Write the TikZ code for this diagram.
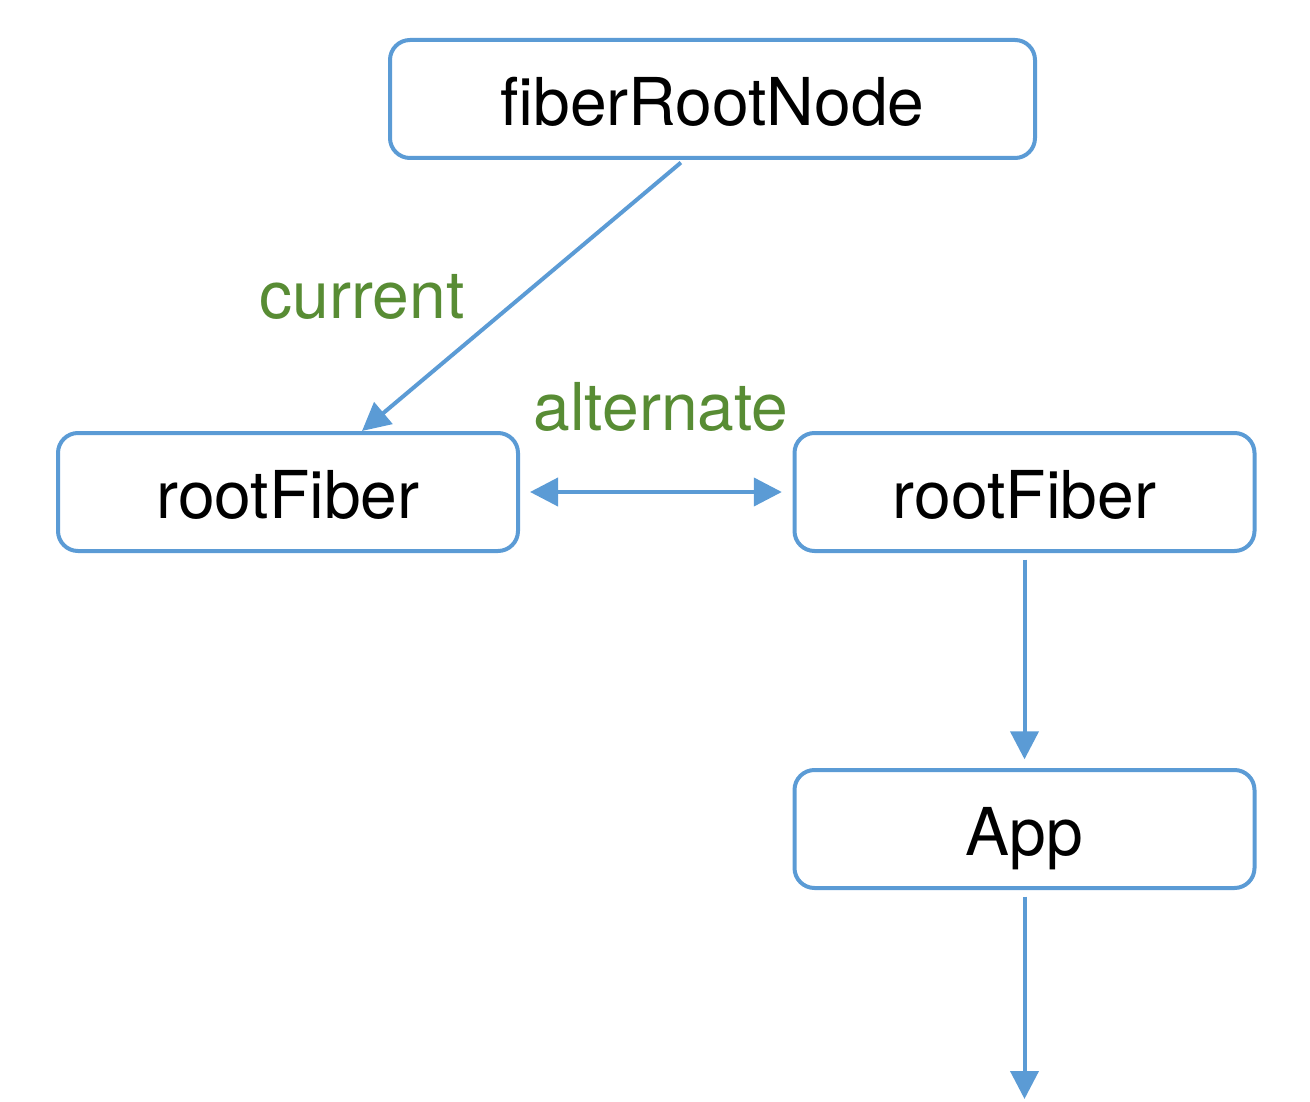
\documentclass[tikz,border=0pt]{standalone}
\usepackage{fontspec}
\setmainfont{TeX Gyre Heros}
\usetikzlibrary{arrows.meta}
\definecolor{boxblue}{RGB}{91,155,213}
\definecolor{labgreen}{RGB}{88,140,52}
\begin{document}
\begin{tikzpicture}[x=0.75pt,y=-0.75pt,
  fbox/.style={draw=boxblue,line width=3pt,rounded corners=15pt,
    minimum width=345pt,minimum height=88.5pt,inner sep=0pt,
    font=\fontsize{49.5}{59}\selectfont,text height=40pt,text depth=0pt},
  arr/.style={draw=boxblue,line width=3pt,
    -{Triangle[length=21pt,width=21pt]}},
  darr/.style={draw=boxblue,line width=3pt,
    {Triangle[length=21pt,width=21pt]}-{Triangle[length=21pt,width=21pt]}},
  lab/.style={text=labgreen,font=\fontsize{49.5}{59}\selectfont,anchor=base,inner sep=0pt}]
\useasboundingbox (0,0) rectangle (1310,1102);
\node[fbox,minimum width=483.75pt] (froot) at (712.5,99) {fiberRootNode};
\node[fbox] (rf1) at (288,492) {rootFiber};
\node[fbox] (rf2) at (1024.5,492) {rootFiber};
\node[fbox] (app) at (1024.5,829) {App};
\coordinate (end) at (1024.5,1099);
\node[lab] (cur) at (362,318) {current};
\node[lab] (alt) at (661,430) {alternate};
\draw[arr,shorten <=3pt] ([xshift=-21.4pt]froot.south) -- ([xshift=55.5pt]rf1.north);
\draw[darr,shorten <=7.5pt,shorten >=8pt] (rf1.east) -- (rf2.west);
\draw[arr,shorten <=5pt,shorten >=6.5pt] (rf2.south) -- (app.north);
\draw[arr,shorten <=5pt] (app.south) -- (end);
\end{tikzpicture}
\end{document}
